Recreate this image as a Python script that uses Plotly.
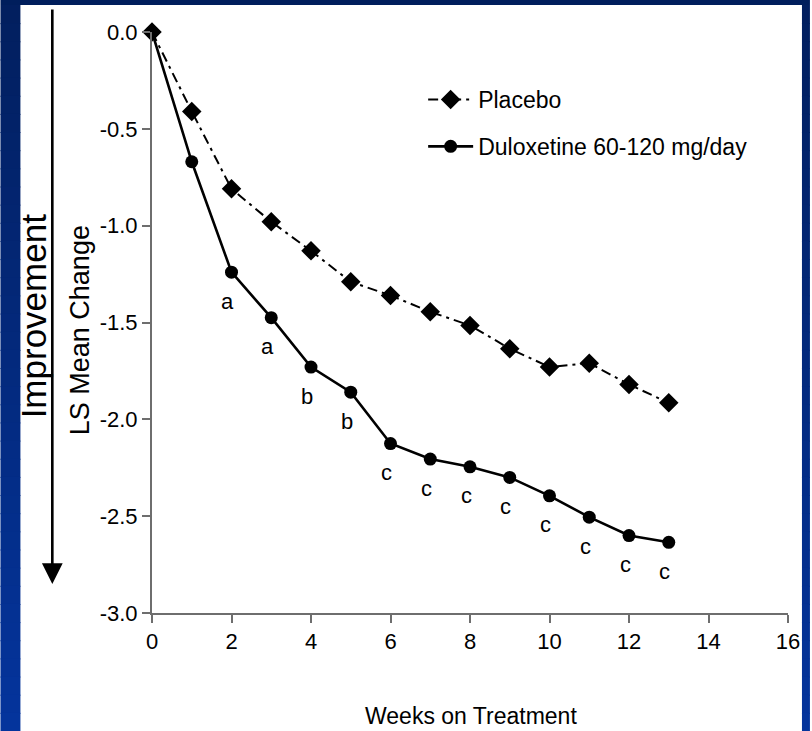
import plotly.graph_objects as go

# Study data: LS mean change from baseline by week
weeks = [0, 1, 2, 3, 4, 5, 6, 7, 8, 9, 10, 11, 12, 13]
placebo = [0.0, -0.41, -0.81, -0.98, -1.13, -1.29, -1.36, -1.445, -1.515, -1.635, -1.73, -1.71, -1.82, -1.915]
duloxetine = [0.0, -0.67, -1.24, -1.475, -1.73, -1.86, -2.125, -2.205, -2.245, -2.30, -2.395, -2.505, -2.60, -2.635]
# significance letters under the duloxetine points (week -> letter)
sig_weeks = [2, 3, 4, 5, 6, 7, 8, 9, 10, 11, 12, 13]
sig_letters = ["a", "a", "b", "b", "c", "c", "c", "c", "c", "c", "c", "c"]

x_ticks = [0, 2, 4, 6, 8, 10, 12, 14, 16]
y_ticks = [0.0, -0.5, -1.0, -1.5, -2.0, -2.5, -3.0]

W, H = 812, 731
ML, MR, MT, MB = 152, 22, 32, 118
PW, PH = W - ML - MR, H - MT - MB

SANS = "Liberation Sans, Arial, sans-serif"


def px(x):
    return (x - ML) / PW


def py(y):
    return 1 - (y - MT) / PH


def mix(c1, c2, t):
    a = [int(c1[i:i + 2], 16) for i in (1, 3, 5)]
    b = [int(c2[i:i + 2], 16) for i in (1, 3, 5)]
    return "#%02x%02x%02x" % tuple(round(a[k] + (b[k] - a[k]) * t) for k in range(3))


fig = go.Figure()

fig.add_trace(go.Scatter(
    x=weeks, y=placebo, name="Placebo", mode="lines+markers",
    line=dict(color="black", width=2, dash="10px,5px,3px,5px"),
    marker=dict(symbol="diamond", size=15, color="black"),
    legendgroup="p", cliponaxis=False,
))
fig.add_trace(go.Scatter(
    x=weeks, y=duloxetine, name="Duloxetine 60-120 mg/day", mode="lines+markers",
    line=dict(color="black", width=2.6),
    marker=dict(symbol="circle", size=13, color="black"),
    legendgroup="d", cliponaxis=False,
))

annotations = []
dlx = dict(zip(weeks, duloxetine))
for wk, letter in zip(sig_weeks, sig_letters):
    annotations.append(dict(
        x=wk, y=dlx[wk], xref="x", yref="y", text=letter, showarrow=False,
        yshift=-29, xshift=-4, font=dict(family=SANS, size=22, color="black"),
    ))

# axis titles
annotations.append(dict(
    x=px(472), y=py(716), xref="paper", yref="paper", text="Weeks on Treatment",
    showarrow=False, font=dict(family=SANS, size=23, color="black"),
    xanchor="center", yanchor="middle",
))
annotations.append(dict(
    x=px(80), y=py(330), xref="paper", yref="paper", text="LS Mean Change",
    showarrow=False, textangle=-90, font=dict(family=SANS, size=27, color="black"),
    xanchor="center", yanchor="middle",
))
annotations.append(dict(
    x=px(33), y=py(316), xref="paper", yref="paper", text="Improvement",
    showarrow=False, textangle=-90, font=dict(family=SANS, size=35, color="black"),
    xanchor="center", yanchor="middle",
))
# downward "improvement" arrow
annotations.append(dict(
    x=px(52), y=py(584), xref="paper", yref="paper", text="",
    showarrow=True, ax=0, ay=-576, axref="pixel", ayref="pixel",
    arrowhead=2, arrowsize=1.6, arrowwidth=2.6, arrowcolor="black",
))

# slide frame: navy top band, blue gradient on the left and right edges
shapes = [dict(type="rect", xref="paper", yref="paper", x0=px(0), x1=px(W),
               y0=py(5), y1=py(0), fillcolor="#001e5c", line=dict(width=0), layer="below")]
n = 40
for i in range(n):
    y0, y1 = 5 + (H - 5) * i / n, 5 + (H - 5) * (i + 1) / n + 1
    c = mix("#021f5f", "#04349c", i / (n - 1))
    shapes.append(dict(type="rect", xref="paper", yref="paper", x0=px(0), x1=px(20),
                       y0=py(y1), y1=py(y0), fillcolor=c, line=dict(width=0), layer="below"))
    shapes.append(dict(type="rect", xref="paper", yref="paper", x0=px(804), x1=px(W),
                       y0=py(y1), y1=py(y0), fillcolor=c, line=dict(width=0), layer="below"))

fig.update_layout(
    width=W, height=H, autosize=False,
    margin=dict(l=ML, r=MR, t=MT, b=MB, pad=0),
    paper_bgcolor="white", plot_bgcolor="white",
    showlegend=True,
    legend=dict(
        x=px(424), y=py(78), xanchor="left", yanchor="top",
        font=dict(family=SANS, size=23, color="black"),
        bgcolor="rgba(0,0,0,0)", traceorder="grouped", tracegroupgap=14,
        itemwidth=45,
    ),
    xaxis=dict(
        range=[0, 16], tickvals=x_ticks, ticktext=[str(v) for v in x_ticks],
        showgrid=False, zeroline=False, showline=True, linecolor="#6e6e6e", linewidth=2,
        ticks="outside", ticklen=8, tickwidth=2, tickcolor="#6e6e6e",
        tickfont=dict(family=SANS, size=22, color="black"),
    ),
    yaxis=dict(
        range=[-3, 0], tickvals=y_ticks, ticktext=["%.1f" % v for v in y_ticks],
        showgrid=False, zeroline=False, showline=True, linecolor="#6e6e6e", linewidth=2,
        ticks="outside", ticklen=8, tickwidth=2, tickcolor="#6e6e6e",
        tickfont=dict(family=SANS, size=22, color="black"),
    ),
    annotations=annotations,
    shapes=shapes,
)

fig.write_html("out.html", config={"displayModeBar": False})
